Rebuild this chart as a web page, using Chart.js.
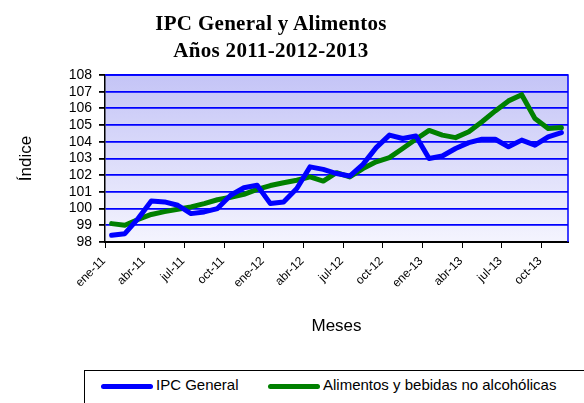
<!DOCTYPE html>
<html>
<head>
<meta charset="utf-8">
<script src="https://cdn.jsdelivr.net/npm/chart.js@4"></script>
<style>
  html, body { margin: 0; padding: 0; background: #fff; }
  #wrap { position: relative; width: 584px; height: 403px; overflow: hidden; }
  #c { position: absolute; left: 0; top: 0; }
  .title { position: absolute; left: 0; width: 542px; text-align: center;
           font-family: "Liberation Serif", "Times New Roman", serif; font-weight: bold;
           font-size: 21px; color: #000; letter-spacing: 0.3px; white-space: nowrap; }
  #legend { position: absolute; left: 84px; top: 370px; width: 520px; height: 60px;
            border: 1px solid #000; box-sizing: border-box; background: #fff;
            font-family: "Liberation Sans", Arial, sans-serif; font-size: 15px; color: #000; }
  .sw { position: absolute; top: 13px; height: 5px; width: 52px; border-radius: 3px; }
  .lt { position: absolute; top: 5px; white-space: nowrap; }
</style>
</head>
<body>
<div id="wrap">
  <canvas id="c" width="584" height="403"></canvas>
  <div class="title" style="top:11px">IPC General y Alimentos</div>
  <div class="title" style="top:38px">Años 2011-2012-2013</div>
  <div id="legend"></div>
</div>
<script>
const titleLines = ["IPC General y Alimentos", "Años 2011-2012-2013"];
const months = [
  "ene-11","feb-11","mar-11","abr-11","may-11","jun-11","jul-11","ago-11","sep-11","oct-11","nov-11","dic-11",
  "ene-12","feb-12","mar-12","abr-12","may-12","jun-12","jul-12","ago-12","sep-12","oct-12","nov-12","dic-12",
  "ene-13","feb-13","mar-13","abr-13","may-13","jun-13","jul-13","ago-13","sep-13","oct-13","nov-13"
];
const ipcGeneral = [
  98.4, 98.5, 99.4, 100.45, 100.4, 100.2, 99.7, 99.8, 100.0, 100.8, 101.25, 101.4,
  100.3, 100.4, 101.2, 102.5, 102.35, 102.1, 101.95, 102.65, 103.65, 104.4, 104.2, 104.35,
  103.0, 103.15, 103.6, 103.95, 104.15, 104.15, 103.7, 104.1, 103.8, 104.3, 104.55
];
const alimentos = [
  99.1, 99.0, 99.35, 99.65, 99.82, 99.96, 100.1, 100.3, 100.53, 100.68, 100.85, 101.15,
  101.38, 101.55, 101.7, 101.9, 101.65, 102.15, 101.9, 102.4, 102.8, 103.05, 103.6, 104.15,
  104.68, 104.4, 104.25, 104.6, 105.2, 105.85, 106.45, 106.82, 105.4, 104.8, 104.85
];
const seriesNames = ["IPC General", "Alimentos y bebidas no alcohólicas"];
const seriesColors = ["#0000ff", "#008000"];
const yTitle = "Índice";
const xTitle = "Meses";

// HTML legend (real text)
const leg = document.getElementById('legend');
const legPos = [[16, 71], [183, 238]];
seriesNames.forEach((n, i) => {
  const s = document.createElement('div');
  s.className = 'sw'; s.style.left = legPos[i][0] + 'px'; s.style.background = seriesColors[i];
  const t = document.createElement('div');
  t.className = 'lt'; t.style.left = legPos[i][1] + 'px'; t.textContent = n;
  leg.appendChild(s); leg.appendChild(t);
});

const bgPlugin = {
  id: 'bg',
  beforeDraw(chart) {
    const { ctx, chartArea: { left, top, right, bottom } } = chart;
    const g = ctx.createLinearGradient(0, top, 0, bottom);
    g.addColorStop(0, '#c4c4f6');
    g.addColorStop(1, '#f4f4fe');
    ctx.save();
    ctx.fillStyle = g;
    ctx.fillRect(left, top, right - left, bottom - top);
    ctx.restore();
  },
  afterDraw(chart) {
    const { ctx, chartArea: { left, top, right, bottom } } = chart;
    ctx.save();
    ctx.strokeStyle = '#0000ff';
    ctx.lineWidth = 1.5;
    ctx.beginPath();
    ctx.moveTo(left, top); ctx.lineTo(right, top); ctx.lineTo(right, bottom);
    ctx.stroke();
    ctx.restore();
  }
};

new Chart(document.getElementById('c'), {
  type: 'line',
  data: {
    labels: months,
    datasets: [
      { label: seriesNames[0], data: ipcGeneral, borderColor: seriesColors[0], borderWidth: 5,
        pointRadius: 0, tension: 0, fill: false, borderCapStyle: 'round', borderJoinStyle: 'round' },
      { label: seriesNames[1], data: alimentos, borderColor: seriesColors[1], borderWidth: 5,
        pointRadius: 0, tension: 0, fill: false, borderCapStyle: 'round', borderJoinStyle: 'round' }
    ]
  },
  options: {
    responsive: false,
    animation: false,
    devicePixelRatio: 1,
    layout: { padding: { left: 10, right: 16, top: 75, bottom: 61 } },
    plugins: { legend: { display: false }, title: { display: false }, tooltip: { enabled: false } },
    scales: {
      x: {
        type: 'category',
        offset: true,
        afterFit(s) { s.height = 100; },
        grid: {
          offset: true, drawOnChartArea: false, drawTicks: true, tickLength: 6,
          tickColor: (c) => (c.index % 3 === 0 ? '#000' : 'rgba(0,0,0,0)')
        },
        border: { display: true, color: '#000', width: 2 },
        ticks: {
          autoSkip: false, maxRotation: 45, minRotation: 45, padding: 6, labelOffset: -8,
          color: '#000', font: { family: 'Liberation Sans, Arial, sans-serif', size: 12 },
          callback(v, i) { return i % 3 === 0 ? this.getLabelForValue(v) : ''; }
        },
        title: { display: true, text: xTitle, color: '#000',
                 font: { family: 'Liberation Sans, Arial, sans-serif', size: 17 }, padding: { top: 0, bottom: 5 } }
      },
      y: {
        min: 98, max: 108,
        afterFit(s) { s.width = 95; },
        grid: { color: '#0000ff', lineWidth: 1.8, drawTicks: true, tickLength: 6, tickColor: '#000' },
        border: { display: true, color: '#000', width: 1.5 },
        ticks: { stepSize: 1, autoSkip: false, padding: 7, color: '#000',
                 font: { family: 'Liberation Sans, Arial, sans-serif', size: 14 } },
        title: { display: true, text: yTitle, color: '#000',
                 font: { family: 'Liberation Sans, Arial, sans-serif', size: 17 }, padding: { top: 6, bottom: 0 } }
      }
    }
  },
  plugins: [bgPlugin]
});
</script>
</body>
</html>
